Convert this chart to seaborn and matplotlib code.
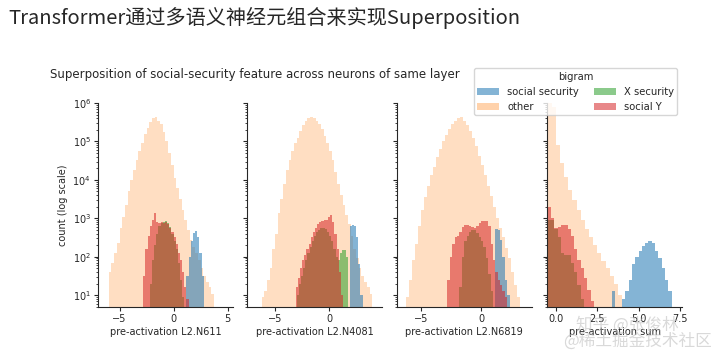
import numpy as np
import pandas as pd
import matplotlib
matplotlib.use("Agg")
import matplotlib.pyplot as plt
from matplotlib.patches import Patch
from matplotlib.ticker import LogLocator, NullFormatter
import seaborn as sns

sns.set_style("ticks")
plt.rcParams['font.family'] = ['DejaVu Sans']

# x-axis labels of the four panels
neurons = ["pre-activation L2.N611", "pre-activation L2.N4081",
           "pre-activation L2.N6819", "pre-activation sum"]

# histogram counts (bin start, bin width, counts)
# --- L2.N611
other_611_start, other_611_w = -6.0, 0.25
other_611 = [40, 70, 125, 225, 560, 1100, 2200, 5000, 10000, 18000, 32000, 56000,
             89000, 160000, 220000, 320000, 400000, 430000, 350000, 280000, 180000,
             100000, 50000, 25000, 11000, 6300, 3200, 1600, 900, 500, 280, 180, 125,
             80, 50, 32, 22, 16, 11]
ss_611_start, ss_611_w = 1.2, 0.2
ss_611 = [32, 100, 250, 420, 460, 320, 125, 32]
xs_611_start, xs_611_w = -2.2, 0.2
xs_611 = [20, 80, 200, 400, 630, 760, 800, 830, 760, 600, 400, 250, 160, 70, 25, 9]
sy_611_start, sy_611_w = -2.8, 0.2
sy_611 = [32, 160, 350, 630, 900, 1400, 800, 760, 800, 760, 800, 710, 560, 450,
          320, 220, 125, 80, 40, 16, 8]

# --- L2.N4081
other_4081_start, other_4081_w = -6.25, 0.25
other_4081 = [9, 13, 25, 50, 160, 400, 1400, 3200, 8000, 18000, 32000, 56000, 89000,
              126000, 190000, 260000, 330000, 400000, 440000, 400000, 350000, 280000,
              210000, 140000, 89000, 56000, 32000, 16000, 8000, 4000, 2200, 1250, 700,
              350, 160, 90, 50, 32, 22, 16, 11]
ss_4081_start, ss_4081_w = 1.9, 0.2
ss_4081 = [630, 660, 630, 320, 63, 10]
xs_4081_start, xs_4081_w = -3.0, 0.2
xs_4081 = [10, 20, 32, 50, 80, 125, 180, 250, 350, 450, 500, 550, 550, 520, 450,
           350, 250, 160, 100, 80, 125, 150, 150, 100]
sy_4081_start, sy_4081_w = -3.1, 0.2
sy_4081 = [16, 28, 50, 80, 110, 160, 220, 320, 450, 560, 710, 800, 830, 890, 890,
           1100, 1250, 800, 400, 160, 40, 10]

# --- L2.N6819
other_6819_start, other_6819_w = -6.25, 0.25
other_6819 = [9, 25, 80, 220, 630, 1600, 3500, 7000, 13000, 22000, 40000, 63000,
              100000, 150000, 210000, 280000, 350000, 400000, 420000, 350000, 260000,
              190000, 120000, 74000, 42000, 25000, 13000, 7000, 3800, 2000, 1000, 560,
              320, 165, 90, 40, 18, 9]
ss_6819_start, ss_6819_w = 1.2, 0.2
ss_6819 = [520, 500, 280, 100, 25, 10]
xs_6819_start, xs_6819_w = -1.8, 0.2
xs_6819 = [16, 100, 250, 350, 450, 500, 500, 420, 330, 250, 180, 90, 35, 13]
sy_6819_start, sy_6819_w = -2.8, 0.2
sy_6819 = [25, 100, 220, 320, 350, 450, 600, 660, 660, 630, 600, 560, 630, 760, 830,
           850, 850, 630, 220, 80, 40, 25, 18, 13, 9]

# --- sum
other_sum_start, other_sum_w = -0.5, 0.25
other_sum = [10000000, 800000, 80000, 28000, 12000, 5600, 3000, 1600, 900, 520, 320,
             200, 125, 76, 50, 32, 19, 10]
ss_sum_start, ss_sum_w = 3.4, 0.2
ss_sum = [13, 0, 0, 8, 13, 25, 63, 100, 140, 186, 224, 250, 224, 140, 90, 50, 25, 13]
xs_sum_start, xs_sum_w = -0.5, 0.2
xs_sum = [900, 900, 520, 320, 125, 110, 110, 70, 40, 18, 8]
sy_sum_start, sy_sum_w = -0.5, 0.2
sy_sum = [2000, 1000, 560, 600, 660, 660, 520, 350, 160, 80, 50, 28, 14, 7]

panels = [
    [(other_611_start, other_611_w, other_611), (ss_611_start, ss_611_w, ss_611),
     (xs_611_start, xs_611_w, xs_611), (sy_611_start, sy_611_w, sy_611)],
    [(other_4081_start, other_4081_w, other_4081), (ss_4081_start, ss_4081_w, ss_4081),
     (xs_4081_start, xs_4081_w, xs_4081), (sy_4081_start, sy_4081_w, sy_4081)],
    [(other_6819_start, other_6819_w, other_6819), (ss_6819_start, ss_6819_w, ss_6819),
     (xs_6819_start, xs_6819_w, xs_6819), (sy_6819_start, sy_6819_w, sy_6819)],
    [(other_sum_start, other_sum_w, other_sum), (ss_sum_start, ss_sum_w, ss_sum),
     (xs_sum_start, xs_sum_w, xs_sum), (sy_sum_start, sy_sum_w, sy_sum)],
]

bigrams = ["other", "social security", "X security", "social Y"]
colors = {"social security": "#1f77b4", "other": "#ff7f0e",
          "X security": "#2ca02c", "social Y": "#d62728"}
alphas = {"social security": 0.55, "other": 0.25, "X security": 0.55, "social Y": 0.55}

xlims = [(-7.0, 5.5), (-7.6, 4.9), (-7.05, 4.25), (-0.53, 7.64)]
xticks = [[-5, 0, 5], [-5, 0], [-5, 0], [0.0, 2.5, 5.0, 7.5]]
lefts = [0.136, 0.343, 0.551, 0.760]

fig = plt.figure(figsize=(7.2, 3.57), dpi=100)

axes = []
for i, series in enumerate(panels):
    ax = fig.add_axes([lefts[i], 0.14, 0.1875, 0.5715],
                      sharey=axes[0] if axes else None)
    ax.set_yscale("log")
    for name, (start, w, counts) in zip(bigrams, series):
        edges = start + w * np.arange(len(counts) + 1)
        df = pd.DataFrame({"x": edges[:-1] + w / 2, "n": np.array(counts, dtype=float)})
        sns.histplot(data=df, x="x", weights="n", bins=list(edges), ax=ax,
                     color=colors[name], alpha=alphas[name], element="bars",
                     linewidth=0, edgecolor="none")
    ax.set_xlim(*xlims[i])
    ax.set_xticks(xticks[i])
    if i == 3:
        ax.set_xticklabels(["0.0", "2.5", "5.0", "7.5"])
    ax.set_xlabel(neurons[i], fontsize=7, labelpad=2)
    ax.set_ylabel("")
    ax.tick_params(labelsize=7, length=3, pad=2)
    ax.tick_params(which="minor", length=1.8)
    sns.despine(ax=ax)
    axes.append(ax)

axes[0].set_ylim(4.9, 1e6)
axes[0].yaxis.set_major_locator(LogLocator(base=10, numticks=10))
axes[0].yaxis.set_minor_locator(LogLocator(base=10, subs=np.arange(2, 10) * 0.1, numticks=20))
axes[0].yaxis.set_minor_formatter(NullFormatter())
axes[0].set_ylabel("count (log scale)", fontsize=7, labelpad=3)
for ax in axes[1:]:
    ax.tick_params(axis="y", labelleft=False)

handles = [Patch(facecolor=colors[n], alpha=alphas[n] + (0.1 if n == "other" else 0), edgecolor="none")
           for n in ["social security", "other", "X security", "social Y"]]
fig.legend(handles, ["social security", "other", "X security", "social Y"],
           title="bigram", ncol=2, loc="upper left", bbox_to_anchor=(0.651, 0.823),
           fontsize=7.2, title_fontsize=7.2, frameon=True, handlelength=2.2,
           columnspacing=1.5, labelspacing=0.5, borderpad=0.35, handletextpad=0.8)

fig.text(0.069, 0.79, "Superposition of social-security feature across neurons of same layer",
         fontsize=8.5, va="center", ha="left")
fig.text(0.011, 0.95, "Transformer通过多语义神经元组合来实现Superposition",
         fontsize=14.5, va="center", ha="left", family=["Noto Sans CJK SC", "DejaVu Sans"])

# faint watermarks in the lower right corner
fig.text(0.80, 1 - 325 / 357, "知乎 @张俊林", fontsize=12, color="#c0c0c0", alpha=0.6,
         va="center", ha="left", family=["Noto Sans CJK SC", "DejaVu Sans"])
fig.text(0.782, 1 - 341 / 357, "@稀土掘金技术社区", fontsize=12, color="#c0c0c0", alpha=0.6,
         va="center", ha="left", family=["Noto Sans CJK SC", "DejaVu Sans"])

fig.savefig("out.png", dpi=100)
